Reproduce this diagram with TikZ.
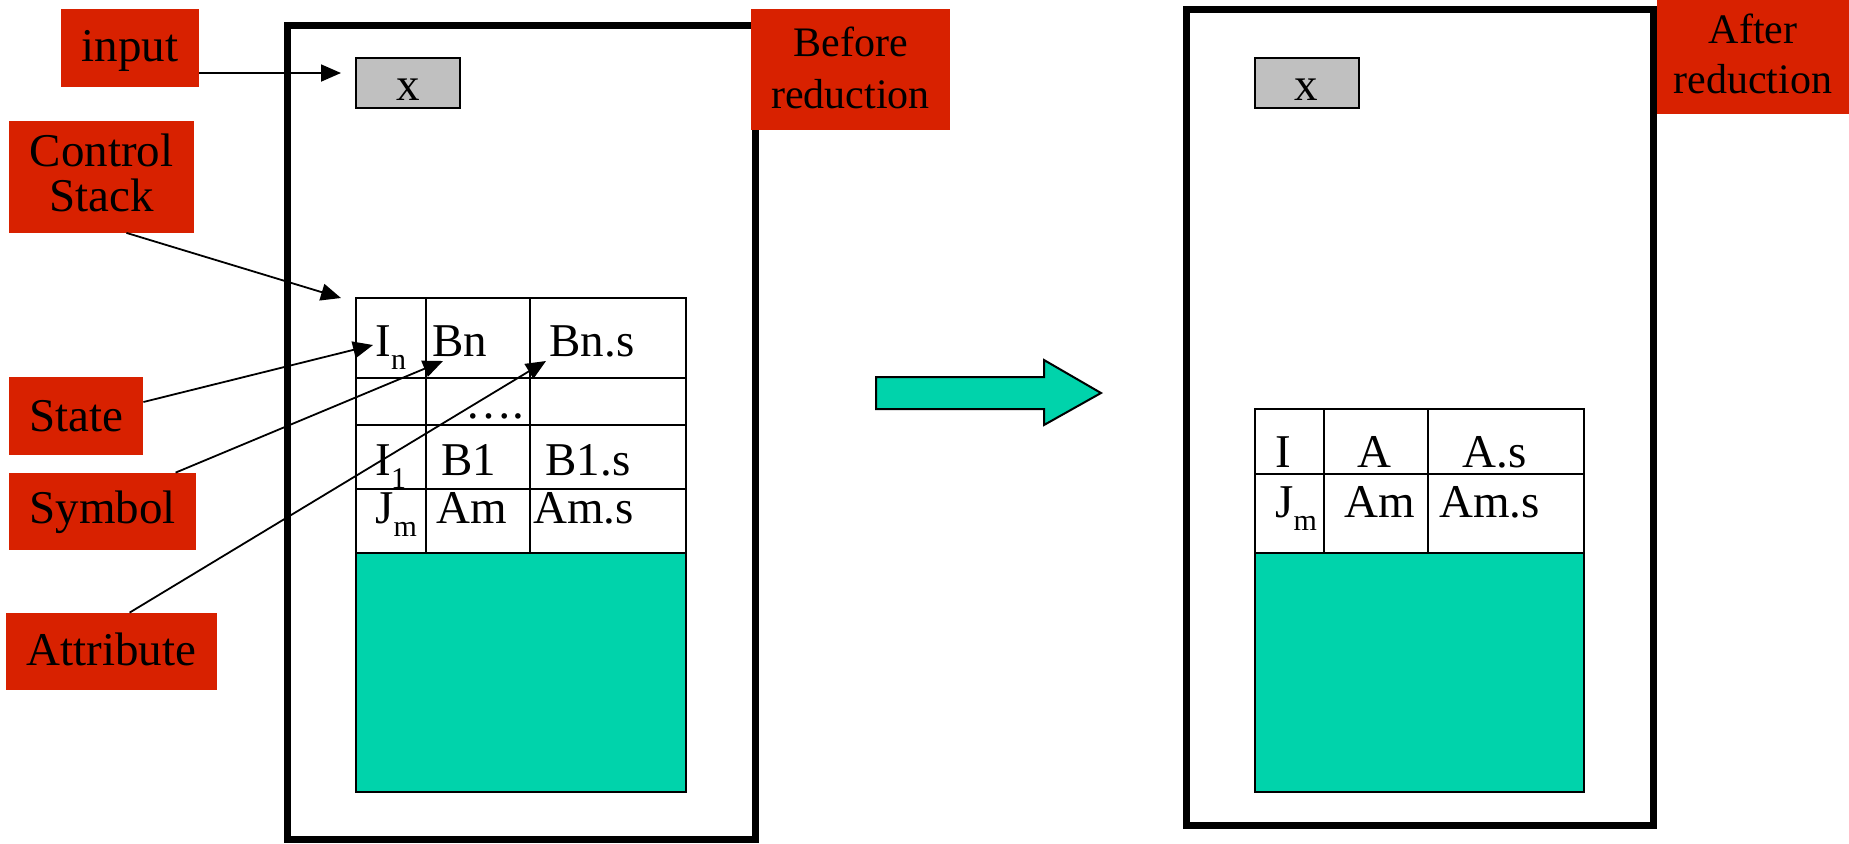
\documentclass[tikz,border=0pt]{standalone}
\usepackage{fontspec}
\setmainfont{Liberation Serif}
\usetikzlibrary{arrows.meta,calc}
\definecolor{lblred}{RGB}{216,33,0}
\definecolor{stackteal}{RGB}{0,211,171}
\definecolor{xgray}{RGB}{192,192,192}
\newcommand\subsz{\fontsize{15}{15}\selectfont}
\newcommand\mysub[1]{\raisebox{-6.5pt}{\subsz #1}}
\newcommand\updepth[1]{\rule[-#1]{0pt}{#1}}
\newcommand\upheight[1]{\rule{0pt}{#1}}
\begin{document}
\begin{tikzpicture}[x=0.5pt,y=-0.5pt,
  lab/.style={fill=lblred, inner sep=0pt, font=\fontsize{23.5}{22.5}\selectfont, align=center},
  title/.style={fill=lblred, inner sep=0pt, font=\fontsize{21}{26}\selectfont, align=center},
  cell/.style={anchor=base west, inner sep=0pt, font=\fontsize{23.5}{24}\selectfont},
  ptr/.style={line width=0.9pt, -{Triangle[length=10pt,width=8.5pt]}},
  frame/.style={line width=3.5pt},
  grid/.style={line width=1pt},
  xbox/.style={draw, line width=1pt, fill=xgray, minimum width=52pt, minimum height=25pt, inner sep=0pt}]

\useasboundingbox (0,0) rectangle (1849,843);

% frames
\draw[frame] (287,25.5) rectangle (755.5,839.5);
\draw[frame] (1186,9.5) rectangle (1653,825);

% left stack
\fill[stackteal] (356,553) rectangle (686,792);
\draw[grid] (356,298) rectangle (686,792);
\draw[grid] (356,377.5) -- (686,377.5);
\draw[grid] (356,425) -- (686,425);
\draw[grid] (356,489) -- (686,489);
\draw[grid] (356,553) -- (686,553);
\draw[grid] (425.5,298) -- (425.5,553);
\draw[grid] (530,298) -- (530,553);

% right stack
\fill[stackteal] (1255,553) rectangle (1584,792);
\draw[grid] (1255,409) rectangle (1584,792);
\draw[grid] (1255,473.5) -- (1584,473.5);
\draw[grid] (1255,553) -- (1584,553);
\draw[grid] (1324,409) -- (1324,553);
\draw[grid] (1428,409) -- (1428,553);

% x boxes
\node[xbox] (xl) at (408,83) {};
\node[anchor=base, inner sep=0pt, font=\fontsize{23.5}{24}\selectfont] (xlt) at (408,100) {x};
\node[xbox] (xr) at (1306.5,83) {};
\node[anchor=base, inner sep=0pt, font=\fontsize{23.5}{24}\selectfont] (xrt) at (1306.5,100) {x};

% left cell texts
\node[cell] (cIn) at (375,356) {I\mysub{n}};
\node[cell] (cBn) at (432,356) {Bn};
\node[cell] (cBns) at (549,356) {Bn.s};
\node[cell] (cdots) at (465,418) {….};
\node[cell] (cI1) at (375,475) {I\mysub{1}};
\node[cell] (cB1) at (441,475) {B1};
\node[cell] (cB1s) at (545,475) {B1.s};
\node[cell] (cJm) at (375,523) {J\mysub{m}};
\node[cell] (cAm) at (436,523) {Am};
\node[cell] (cAms) at (533,523) {Am.s};

% right cell texts
\node[cell] (rI) at (1275,467) {I};
\node[cell] (rA) at (1357,467) {A};
\node[cell] (rAs) at (1462,467) {A.s};
\node[cell] (rJm) at (1275,517) {J\mysub{m}};
\node[cell] (rAm) at (1344,517) {Am};
\node[cell] (rAms) at (1439,517) {Am.s};

% block arrow
\draw[fill=stackteal, line width=1pt] (876,377) -- (1044,377) -- (1044,360) -- (1101,393) -- (1044,425) -- (1044,409) -- (876,409) -- cycle;

% labels
\node[lab, minimum width=69pt, minimum height=38.75pt] (inp) at (130,47.75) {\upheight{19pt}input};
\node[lab, minimum width=92.5pt, minimum height=56pt] (cs) at (101.5,176.5) {Control\\Stack\updepth{4pt}};
\node[lab, minimum width=67pt, minimum height=39pt] (st) at (76,416) {State};
\node[lab, minimum width=93.5pt, minimum height=38.5pt] (sy) at (102.5,511.5) {\upheight{17.5pt}Symbol};
\node[lab, minimum width=105.5pt, minimum height=38.5pt] (at) at (111.5,651.5) {Attribute\updepth{2pt}};
\node[title, minimum width=99.5pt, minimum height=60.5pt] (bef) at (850.5,69.5) {Before\\reduction\updepth{2pt}};
\node[title, minimum width=96pt, minimum height=57pt, font=\fontsize{21}{24.75}\selectfont] (aft) at (1753,57) {After\\reduction\updepth{3.5pt}};

% pointers
\coordinate (tipIn) at (341,73);
\draw[ptr] (inp.east |- tipIn) -- (tipIn);
\coordinate (tipCS) at (341,298);
\draw[ptr] ($(cs.south)+(25,0)$) -- (tipCS);
\coordinate (tipSt) at (373,345);
\draw[ptr] ($(st.east)+(0,-14)$) -- (tipSt);
\coordinate (tipSy) at (443,361);
\draw[ptr] ($(sy.north west)+(167,0)$) -- (tipSy);
\coordinate (tipAt) at (546,361);
\draw[ptr] ($(at.north west)+(124,0)$) -- (tipAt);
\end{tikzpicture}
\end{document}
